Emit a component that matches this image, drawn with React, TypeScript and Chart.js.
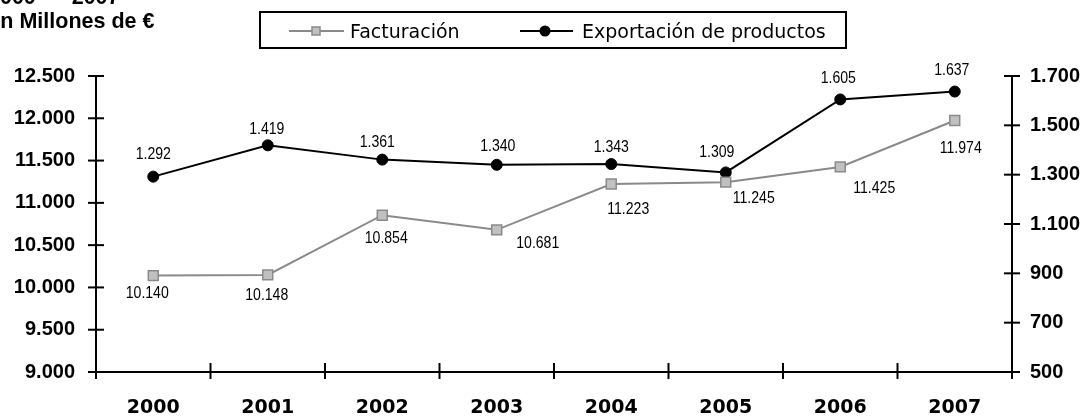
import React, { useEffect, useRef } from 'react';
import { Chart, registerables } from 'chart.js';

Chart.register(...registerables);

const YEARS = ['2000', '2001', '2002', '2003', '2004', '2005', '2006', '2007'];
const FACTURACION = [10140, 10148, 10854, 10681, 11223, 11245, 11425, 11974];
const EXPORTACION = [1292, 1419, 1361, 1340, 1343, 1309, 1605, 1637];
const LEFT_AXIS = { min: 9000, max: 12500, step: 500 };
const RIGHT_AXIS = { min: 500, max: 1700, step: 200 };
const SERIES_NAMES = ['Facturación', 'Exportación de productos'];
const TITLE_LINES = ['2000  –  2007', 'En Millones de €'];

// label nudges in px (style only)
const FACT_LABEL_NUDGE: [number, number][] = [[-6, 18], [-1, 21], [4, 23], [41, 14], [17, 26], [28, 16], [34, 22], [6, 28]];
const EXPO_LABEL_NUDGE: [number, number][] = [[0, -22], [-1, -16], [-5, -17], [1, -18], [0, -16], [-9, -20], [-2, -21], [-3, -21]];

const fmt = (n: number) => String(n).replace(/\B(?=(\d{3})+(?!\d))/g, '.');

const W = 1089;
const H = 419;
const PLOT_LEFT = 96;
const PLOT_RIGHT = 1012;
const PLOT_TOP = 76;
const PLOT_BOTTOM = 372;

const FACT_LINE = '#8a8a8a';
const FACT_FILL = '#c0c0c0';

export default function App() {
  const ref = useRef<HTMLCanvasElement | null>(null);

  useEffect(() => {
    if (!ref.current) return;

    const axesPlugin = {
      id: 'axesPlugin',
      beforeDatasetsDraw(chart: any) {
        const { ctx, chartArea, scales } = chart;
        const { left, right, top, bottom } = chartArea;
        ctx.save();
        ctx.strokeStyle = '#000';
        ctx.lineWidth = 2;
        const line = (x1: number, y1: number, x2: number, y2: number) => {
          ctx.beginPath();
          ctx.moveTo(x1, y1);
          ctx.lineTo(x2, y2);
          ctx.stroke();
        };
        line(left, top, left, bottom + 7);
        line(right, top, right, bottom + 7);
        line(left - 1, bottom, right + 1, bottom);
        scales.y.ticks.forEach((t: any) => {
          const y = scales.y.getPixelForValue(t.value);
          line(left - 8, y, left + 8, y);
        });
        scales.y1.ticks.forEach((t: any) => {
          const y = scales.y1.getPixelForValue(t.value);
          line(right - 8, y, right + 8, y);
        });
        const n = YEARS.length;
        const half = (scales.x.getPixelForValue(1) - scales.x.getPixelForValue(0)) / 2;
        for (let i = 0; i <= n; i++) {
          const x = i < n ? scales.x.getPixelForValue(i) - half : scales.x.getPixelForValue(n - 1) + half;
          line(x, bottom - 9, x, bottom + 7);
        }
        ctx.restore();
      },
      afterDatasetsDraw(chart: any) {
        const { ctx } = chart;
        ctx.save();
        ctx.fillStyle = '#000';
        ctx.font = '16px "Liberation Sans", Arial, sans-serif';
        ctx.textAlign = 'center';
        ctx.textBaseline = 'middle';
        const put = (txt: string, x: number, y: number) => {
          ctx.save();
          ctx.translate(x, y);
          ctx.scale(0.88, 1);
          ctx.fillText(txt, 0, 0);
          ctx.restore();
        };
        const m0 = chart.getDatasetMeta(0);
        m0.data.forEach((p: any, i: number) => {
          const [dx, dy] = FACT_LABEL_NUDGE[i];
          put(fmt(FACTURACION[i]), p.x + dx, p.y + dy);
        });
        const m1 = chart.getDatasetMeta(1);
        m1.data.forEach((p: any, i: number) => {
          const [dx, dy] = EXPO_LABEL_NUDGE[i];
          put(fmt(EXPORTACION[i]), p.x + dx, p.y + dy);
        });
        ctx.restore();
      },
      afterDraw(chart: any) {
        const { ctx } = chart;
        ctx.save();
        // title
        ctx.fillStyle = '#000';
        ctx.textAlign = 'left';
        ctx.textBaseline = 'alphabetic';
        ctx.font = 'bold 21.5px "Liberation Sans", Arial, sans-serif';
        ctx.fillText(TITLE_LINES[0], -12, 4);
        ctx.fillText(TITLE_LINES[1], -14, 28);
        // legend box
        ctx.strokeStyle = '#000';
        ctx.lineWidth = 2;
        ctx.strokeRect(260, 12, 586, 36);
        // legend entry 1
        ctx.strokeStyle = FACT_LINE;
        ctx.lineWidth = 2;
        ctx.beginPath();
        ctx.moveTo(289, 31);
        ctx.lineTo(344, 31);
        ctx.stroke();
        ctx.fillStyle = FACT_FILL;
        ctx.lineWidth = 1.5;
        ctx.fillRect(312, 27, 8, 8);
        ctx.strokeRect(312, 27, 8, 8);
        ctx.fillStyle = '#000';
        ctx.font = '19px "DejaVu Sans", sans-serif';
        ctx.fillText(SERIES_NAMES[0], 350, 38);
        // legend entry 2
        ctx.strokeStyle = '#000';
        ctx.lineWidth = 2;
        ctx.beginPath();
        ctx.moveTo(520, 31);
        ctx.lineTo(573, 31);
        ctx.stroke();
        ctx.beginPath();
        ctx.arc(545, 31, 5.5, 0, Math.PI * 2);
        ctx.fill();
        ctx.fillText(SERIES_NAMES[1], 582, 38);
        ctx.restore();
      },
    };

    const chart = new Chart(ref.current, {
      type: 'line',
      data: {
        labels: YEARS,
        datasets: [
          {
            label: SERIES_NAMES[0],
            data: FACTURACION,
            yAxisID: 'y',
            borderColor: FACT_LINE,
            borderWidth: 2,
            pointStyle: 'rect',
            pointRadius: 7,
            pointBackgroundColor: FACT_FILL,
            pointBorderColor: FACT_LINE,
            pointBorderWidth: 1.5,
            tension: 0,
          },
          {
            label: SERIES_NAMES[1],
            data: EXPORTACION,
            yAxisID: 'y1',
            borderColor: '#000',
            borderWidth: 2,
            pointStyle: 'circle',
            pointRadius: 5.5,
            pointBackgroundColor: '#000',
            pointBorderColor: '#000',
            pointBorderWidth: 1,
            tension: 0,
          },
        ],
      },
      options: {
        responsive: false,
        animation: false,
        devicePixelRatio: 1,
        layout: { padding: { top: PLOT_TOP, left: 0, right: 0, bottom: 0 } },
        plugins: {
          legend: { display: false },
          tooltip: { enabled: false },
          title: { display: false },
        },
        scales: {
          x: {
            type: 'category',
            offset: true,
            grid: { display: false, drawTicks: false },
            border: { display: false },
            ticks: {
              color: '#000',
              font: { family: '"DejaVu Sans", sans-serif', size: 19, weight: 'bold' },
              padding: 25,
              maxRotation: 0,
              autoSkip: false,
            },
            afterFit(s: any) {
              s.height = H - PLOT_BOTTOM;
            },
          },
          y: {
            type: 'linear',
            position: 'left',
            min: LEFT_AXIS.min,
            max: LEFT_AXIS.max,
            grid: { display: false, drawTicks: false },
            border: { display: false },
            ticks: {
              stepSize: LEFT_AXIS.step,
              color: '#000',
              font: { family: '"Liberation Sans", Arial, sans-serif', size: 20, weight: 'bold' },
              padding: 21,
              callback: (v: any) => fmt(Number(v)),
            },
            afterFit(s: any) {
              s.width = PLOT_LEFT;
            },
          },
          y1: {
            type: 'linear',
            position: 'right',
            min: RIGHT_AXIS.min,
            max: RIGHT_AXIS.max,
            grid: { display: false, drawTicks: false },
            border: { display: false },
            ticks: {
              stepSize: RIGHT_AXIS.step,
              color: '#000',
              font: { family: '"Liberation Sans", Arial, sans-serif', size: 20, weight: 'bold' },
              padding: 18,
              callback: (v: any) => fmt(Number(v)),
            },
            afterFit(s: any) {
              s.width = W - PLOT_RIGHT;
            },
          },
        },
      },
      plugins: [axesPlugin],
    } as any);

    return () => chart.destroy();
  }, []);

  return (
    <div style={{ position: 'absolute', left: 0, top: 0, width: W, height: H, background: '#fff' }}>
      <canvas ref={ref} width={W} height={H} style={{ display: 'block' }} />
    </div>
  );
}
